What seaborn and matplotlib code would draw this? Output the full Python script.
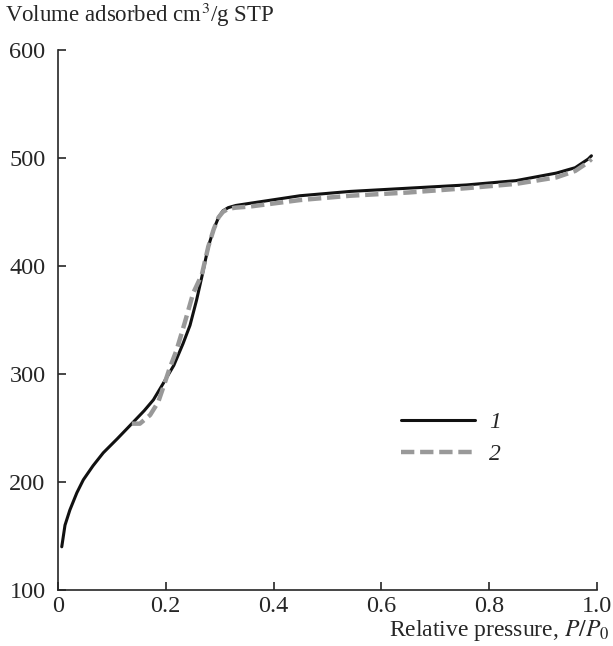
import pandas as pd
import seaborn as sns
import matplotlib.pyplot as plt
from matplotlib.lines import Line2D

# Isotherm 1 (solid) and 2 (dashed)
p_1 = [0.007, 0.013, 0.022, 0.035, 0.047, 0.065, 0.084, 0.11, 0.137, 0.16, 0.177, 0.195,
       0.215, 0.232, 0.245, 0.257, 0.267, 0.279, 0.289, 0.298, 0.306, 0.316, 0.33, 0.356,
       0.449, 0.542, 0.65, 0.758, 0.85, 0.925, 0.96, 0.984, 0.99]
v_1 = [140, 160, 174, 190, 202, 215, 227, 240, 254, 266, 276, 291, 308, 328, 345, 368,
       390, 418, 434, 445, 451, 454, 456, 458, 465, 469, 472, 475, 479, 486, 491, 499, 502]

p_2 = [0.137, 0.152, 0.171, 0.186, 0.197, 0.207, 0.220, 0.235, 0.251, 0.267, 0.279,
       0.289, 0.298, 0.306, 0.316, 0.33, 0.356, 0.449, 0.542, 0.65, 0.758, 0.85, 0.925,
       0.96, 0.984, 0.99]
v_2 = [254, 254, 262, 274, 290, 305, 322, 347, 375, 392, 418, 434, 445, 450, 453, 454,
       455, 461, 465, 468, 472, 476, 482, 488, 496, 499]

df = pd.concat([
    pd.DataFrame({'p': p_1, 'v': v_1, 'sample': '1'}),
    pd.DataFrame({'p': p_2, 'v': v_2, 'sample': '2'}),
], ignore_index=True)

sns.set_style('ticks')
plt.rcParams['font.family'] = ['Liberation Serif', 'DejaVu Serif']
plt.rcParams['mathtext.fontset'] = 'stix'

fig = plt.figure(figsize=(6.13, 6.46), dpi=100)
ax = fig.add_axes([0.0946, 0.0867, 0.879, 0.836])

colors = {'1': '#111111', '2': '#999999'}
dashes = {'1': '', '2': (3, 1.3)}
sns.lineplot(data=df, x='p', y='v', hue='sample', style='sample', palette=colors,
             dashes=dashes, sort=False, estimator=None, ax=ax, legend=False)
ax.lines[0].set_linewidth(2.2)
ax.lines[1].set_linewidth(3.2)
ax.lines[1].set_zorder(3)

ax.set_xlim(0, 1.0)
ax.set_ylim(100, 600)
ax.set_xticks([0, 0.2, 0.4, 0.6, 0.8, 1.0])
ax.set_xticklabels(['0', '0.2', '0.4', '0.6', '0.8', '1.0'])
ax.set_yticks([100, 200, 300, 400, 500, 600])
ax.tick_params(direction='in', length=6, width=1.2, labelsize=17.5)
ax.tick_params(axis='y', pad=9)
ax.tick_params(axis='x', pad=4)
ax.set_xlabel('')
ax.set_ylabel('')
sns.despine(ax=ax)
for s in ['left', 'bottom']:
    ax.spines[s].set_linewidth(1.2)

fig.text(0.008, 0.966, 'Volume adsorbed cm$^3$/g STP', fontsize=16.5, ha='left', va='baseline')
fig.text(0.995, 0.016, 'Relative pressure, $P/P_0$', fontsize=17, ha='right', va='baseline')

handles = [Line2D([], [], color=colors['1'], lw=2.2),
           Line2D([], [], color=colors['2'], lw=3.2, dashes=(3, 1.3))]
ax.legend(handles, ['1', '2'], frameon=False, loc='upper left',
          bbox_to_anchor=(0.619, 0.396), bbox_transform=fig.transFigure,
          handlelength=3.15, handletextpad=0.6, labelspacing=0.45,
          prop={'style': 'italic', 'size': 17})

plt.savefig('out.png', dpi=100)
